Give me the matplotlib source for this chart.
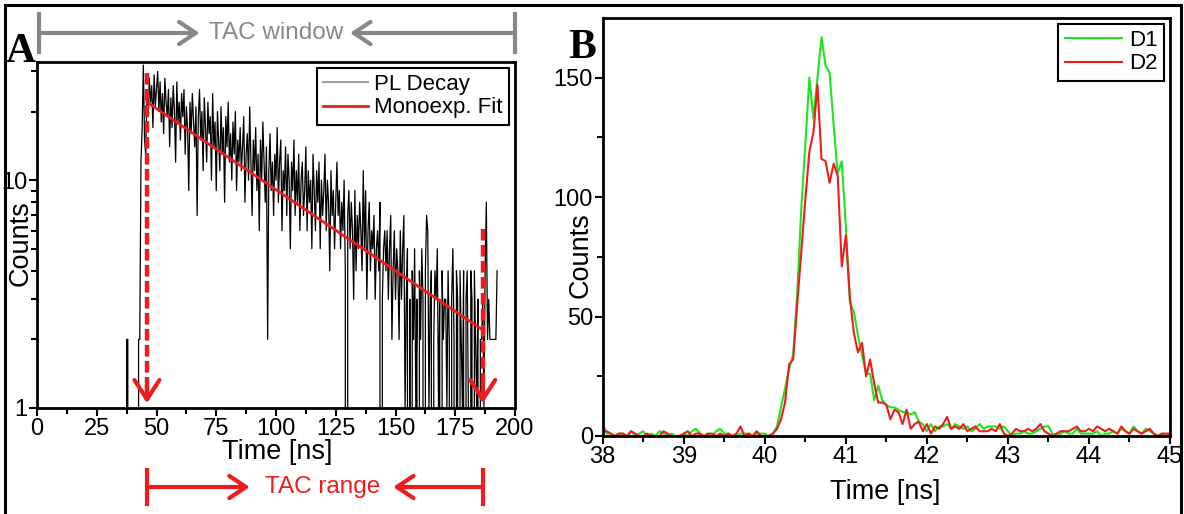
import numpy as np
import matplotlib
matplotlib.use("Agg")
from matplotlib import pyplot as plt
from matplotlib.lines import Line2D
from matplotlib.patches import Rectangle

plt.rcParams['font.family'] = ['Liberation Sans Narrow', 'Liberation Sans', 'DejaVu Sans']

# ---- panel A: PL decay, 0.5 ns bins starting at 36 ns ----
decay_t0 = 36.0
decay_bin = 0.5
decay_counts = [
    0, 0, 0, 2, 2, 0, 0, 0, 0, 0,
    0, 0, 0, 2, 2, 12, 17, 32, 15, 13,
    24, 19, 28, 22, 26, 17, 29, 21, 25, 30,
    20, 27, 18, 24, 16, 28, 22, 19, 25, 14,
    23, 17, 26, 20, 12, 27, 18, 22, 15, 24,
    19, 25, 13, 21, 17, 9, 22, 16, 24, 18,
    14, 21, 7, 19, 25, 15, 20, 11, 23, 17,
    12, 22, 16, 19, 10, 24, 14, 18, 9, 20,
    15, 11, 21, 13, 17, 8, 19, 14, 22, 12,
    16, 10, 18, 13, 20, 9, 15, 12, 17, 11,
    14, 19, 8, 13, 16, 10, 21, 12, 7, 15,
    11, 17, 9, 13, 6, 15, 10, 18, 12, 8,
    14, 2, 11, 16, 9, 12, 7, 13, 10, 17,
    8, 12, 15, 6, 11, 9, 14, 7, 13, 10,
    5, 12, 9, 15, 7, 11, 8, 13, 6, 10,
    12, 7, 9, 14, 6, 11, 8, 10, 5, 13,
    9, 6, 11, 8, 12, 5, 10, 7, 9, 13,
    6, 10, 8, 4, 11, 7, 9, 5, 8, 12,
    7, 9, 5, 8, 6, 10, 4, 0, 7, 9,
    5, 8, 6, 3, 9, 4, 7, 5, 8, 6,
    4, 11, 5, 9, 3, 6, 8, 4, 6, 5,
    7, 3, 5, 6, 4, 8, 0, 3, 5, 6,
    4, 6, 3, 5, 7, 2, 4, 6, 3, 5,
    4, 2, 6, 3, 5, 7, 1, 3, 5, 0,
    3, 0, 4, 2, 5, 1, 3, 0, 4, 2,
    5, 3, 0, 4, 7, 6, 1, 3, 4, 0,
    2, 4, 3, 5, 1, 3, 0, 4, 2, 3,
    3, 1, 4, 2, 0, 3, 5, 2, 0, 4,
    3, 0, 4, 2, 1, 4, 0, 3, 4, 1,
    0, 4, 3, 0, 4, 2, 1, 3, 0, 2,
    2, 3, 1, 4, 8, 2, 3, 2, 2, 2,
    2, 2, 2, 4,
]

# mono-exponential fit
fit_amp = 22.0
fit_tau = 61.0
fit_start = 46.0
fit_end = 186.0

# TAC range markers (dashed arrows) and heights where they start
tac_range = [46.0, 186.5]
marker_top = [29.5, 6.1]

# ---- panel B: instrument response, 0.05 ns bins from 38 ns ----
irf_t0 = 38.0
irf_bin = 0.05
d1 = [
    5, 1, 1, 0, 1, 1, 0, 2, 0, 1,
    2, 0, 1, 0, 2, 1, 0, 1, 0, 0,
    1, 0, 2, 3, 1, 0, 1, 0, 2, 3,
    1, 1, 0, 0, 1, 1, 1, 0, 1, 1,
    1, 0, 1, 4, 12, 20, 28, 34, 60, 95,
    122, 150, 133, 150, 167, 155, 152, 130, 110, 115,
    88, 56, 52, 42, 34, 26, 26, 15, 21, 15,
    13, 12, 12, 11, 10, 10, 9, 10, 6, 5,
    2, 5, 2, 4, 4, 5, 3, 5, 4, 3,
    4, 2, 3, 5, 3, 4, 4, 4, 3, 4,
    2, 0, 1, 1, 2, 1, 1, 2, 3, 4,
    4, 1, 0, 1, 2, 1, 1, 3, 1, 1,
    1, 1, 2, 0, 1, 1, 2, 1, 3, 2,
    1, 4, 2, 1, 3, 2, 1, 0, 1, 0,
    1,
]
d2 = [
    2, 2, 1, 0, 1, 1, 0, 2, 1, 0,
    0, 1, 0, 0, 0, 2, 1, 0, 0, 0,
    1, 2, 0, 1, 1, 0, 1, 1, 0, 1,
    0, 1, 0, 1, 4, 0, 1, 0, 2, 0,
    0, 0, 1, 3, 7, 14, 30, 32, 55, 77,
    99, 119, 127, 147, 116, 115, 106, 114, 109, 71,
    84, 58, 43, 35, 39, 25, 32, 22, 14, 14,
    13, 7, 11, 10, 5, 11, 3, 5, 6, 2,
    5, 1, 4, 3, 5, 8, 3, 4, 3, 5,
    2, 3, 4, 2, 2, 2, 3, 2, 5, 1,
    0, 1, 3, 2, 2, 3, 2, 3, 5, 2,
    1, 0, 1, 2, 2, 2, 3, 4, 2, 2,
    3, 2, 4, 3, 2, 3, 2, 1, 4, 2,
    1, 3, 2, 1, 2, 3, 1, 0, 1, 1,
    1,
]

RED = '#ee1c1c'
GREEN = '#1ee61e'
GRAY = '#888888'

W, H = 1184, 514
fig = plt.figure(figsize=(W / 100, H / 100), dpi=100)

axA = fig.add_axes([37 / W, 1 - 408 / H, (515 - 37) / W, (408 - 62) / H])
axB = fig.add_axes([602.7 / W, 1 - 436 / H, (1170 - 602.7) / W, (436 - 18) / H])

for ax in (axA, axB):
    for s in ax.spines.values():
        s.set_linewidth(2)
    ax.tick_params(which='major', direction='out', length=6, width=1.5, labelsize=17, pad=1)
    ax.tick_params(which='minor', direction='out', length=4, width=1.5)

# panel A
tA = decay_t0 + decay_bin * np.arange(len(decay_counts))
axA.plot(tA, decay_counts, color='black', lw=0.9)
t_fit = np.linspace(fit_start, fit_end, 60)
axA.plot(t_fit, fit_amp * np.exp(-(t_fit - fit_start) / fit_tau), color=RED, lw=2)
axA.set_yscale('log')
axA.set_xlim(0, 200)
axA.set_ylim(1, 33)
axA.set_xticks(np.arange(0, 201, 25))
axA.set_xticks(np.arange(0, 201, 12.5), minor=True)
axA.set_yticks([1, 10])
axA.set_yticklabels(['1', '10'])
axA.set_yticks([2, 3, 4, 5, 6, 7, 8, 9, 20, 30], minor=True)
axA.yaxis.set_minor_formatter(matplotlib.ticker.NullFormatter())
axA.set_xlabel('Time [ns]', fontsize=19.5, va='center')
axA.set_ylabel('Counts', fontsize=19.5, va='center')
axA.xaxis.set_label_coords((277 - 37) / 478, (408 - 452) / 346)
axA.yaxis.set_label_coords((21 - 37) / 478, (408 - 243) / 346)

for x0, ytop in zip(tac_range, marker_top):
    axA.plot([x0, x0], [ytop, 1.08], color=RED, lw=3.2, ls=(0, (2.6, 1.0)), zorder=5)
    axA.annotate('', xy=(x0, 1.02), xytext=(x0, 1.3),
                 arrowprops=dict(arrowstyle='->,head_length=0.7,head_width=0.45',
                                 color=RED, lw=3, mutation_scale=20), zorder=6)

legA = axA.legend([Line2D([], [], color='#a0a0a0', lw=1.5), Line2D([], [], color=RED, lw=2)],
                  ['PL Decay', 'Monoexp. Fit'], loc='upper right', fontsize=16,
                  fancybox=False, edgecolor='black', framealpha=1, borderpad=0.3,
                  labelspacing=0.1, handlelength=2.0, handletextpad=0.3,
                  borderaxespad=0.25)
legA.get_frame().set_linewidth(1.5)

# TAC window (top) and TAC range (bottom) annotations
trans = axA.get_xaxis_transform()
y_win = (408 - 33) / 346
y_rng = (408 - 487) / 346
for x0 in (1, 200):
    axA.plot([x0, x0], [y_win - 0.055, y_win + 0.055], color=GRAY, lw=3,
             transform=trans, clip_on=False)
for x0 in tac_range:
    axA.plot([x0, x0], [y_rng - 0.05, y_rng + 0.05], color=RED, lw=3,
             transform=trans, clip_on=False)
arrow_kw = dict(xycoords=trans, textcoords=trans, annotation_clip=False)
head = '->,head_length=0.6,head_width=0.4'
axA.annotate('', xy=(68, y_win), xytext=(1, y_win),
             arrowprops=dict(arrowstyle=head, color=GRAY, lw=3, mutation_scale=20,
                             shrinkA=0, shrinkB=0), **arrow_kw)
axA.annotate('', xy=(131, y_win), xytext=(200, y_win),
             arrowprops=dict(arrowstyle=head, color=GRAY, lw=3, mutation_scale=20,
                             shrinkA=0, shrinkB=0), **arrow_kw)
axA.text(100, y_win, 'TAC window', color=GRAY, fontsize=17.5, ha='center', va='center',
         transform=trans)
axA.annotate('', xy=(89, y_rng), xytext=(tac_range[0], y_rng),
             arrowprops=dict(arrowstyle=head, color=RED, lw=3, mutation_scale=20,
                             shrinkA=0, shrinkB=0), **arrow_kw)
axA.annotate('', xy=(149, y_rng), xytext=(tac_range[1], y_rng),
             arrowprops=dict(arrowstyle=head, color=RED, lw=3, mutation_scale=20,
                             shrinkA=0, shrinkB=0), **arrow_kw)
axA.text(119.5, y_rng, 'TAC range', color=RED, fontsize=17.5, ha='center', va='center',
         transform=trans)

# panel B
tB = irf_t0 + irf_bin * np.arange(len(d1))
axB.plot(tB, d1, color=GREEN, lw=1.5, label='D1')
axB.plot(tB, d2, color=RED, lw=1.5, label='D2')
axB.set_xlim(38, 45)
axB.set_ylim(0, 175)
axB.set_xticks(np.arange(38, 46, 1))
axB.set_xticks(np.arange(38, 45.01, 0.5), minor=True)
axB.set_yticks([0, 50, 100, 150])
axB.set_yticks([25, 75, 125], minor=True)
axB.set_xlabel('Time [ns]', fontsize=19.5, va='center')
axB.set_ylabel('Counts', fontsize=19.5, va='center')
axB.xaxis.set_label_coords((885 - 602.7) / 567.3, (436 - 492) / 418)
axB.yaxis.set_label_coords((581 - 602.7) / 567.3, (436 - 255) / 418)
legB = axB.legend(loc='upper right', fontsize=16, fancybox=False, edgecolor='black',
                  framealpha=1, borderpad=0.3, labelspacing=0.1, handlelength=2.6,
                  handletextpad=0.3, borderaxespad=0.25)
legB.get_frame().set_linewidth(1.5)

# panel letters
fig.text(6 / W, 1 - 62 / H, 'A', fontsize=30, fontweight='bold', family='Liberation Serif')
fig.text(568 / W, 1 - 58 / H, 'B', fontsize=30, fontweight='bold', family='Liberation Serif')

# outer frame
fig.add_artist(Rectangle((5 / W, -0.02), (1181 - 5) / W, 1.02 - 5 / H, transform=fig.transFigure,
                         fill=False, edgecolor='black', lw=2.2))

fig.savefig('out.png', dpi=100)
